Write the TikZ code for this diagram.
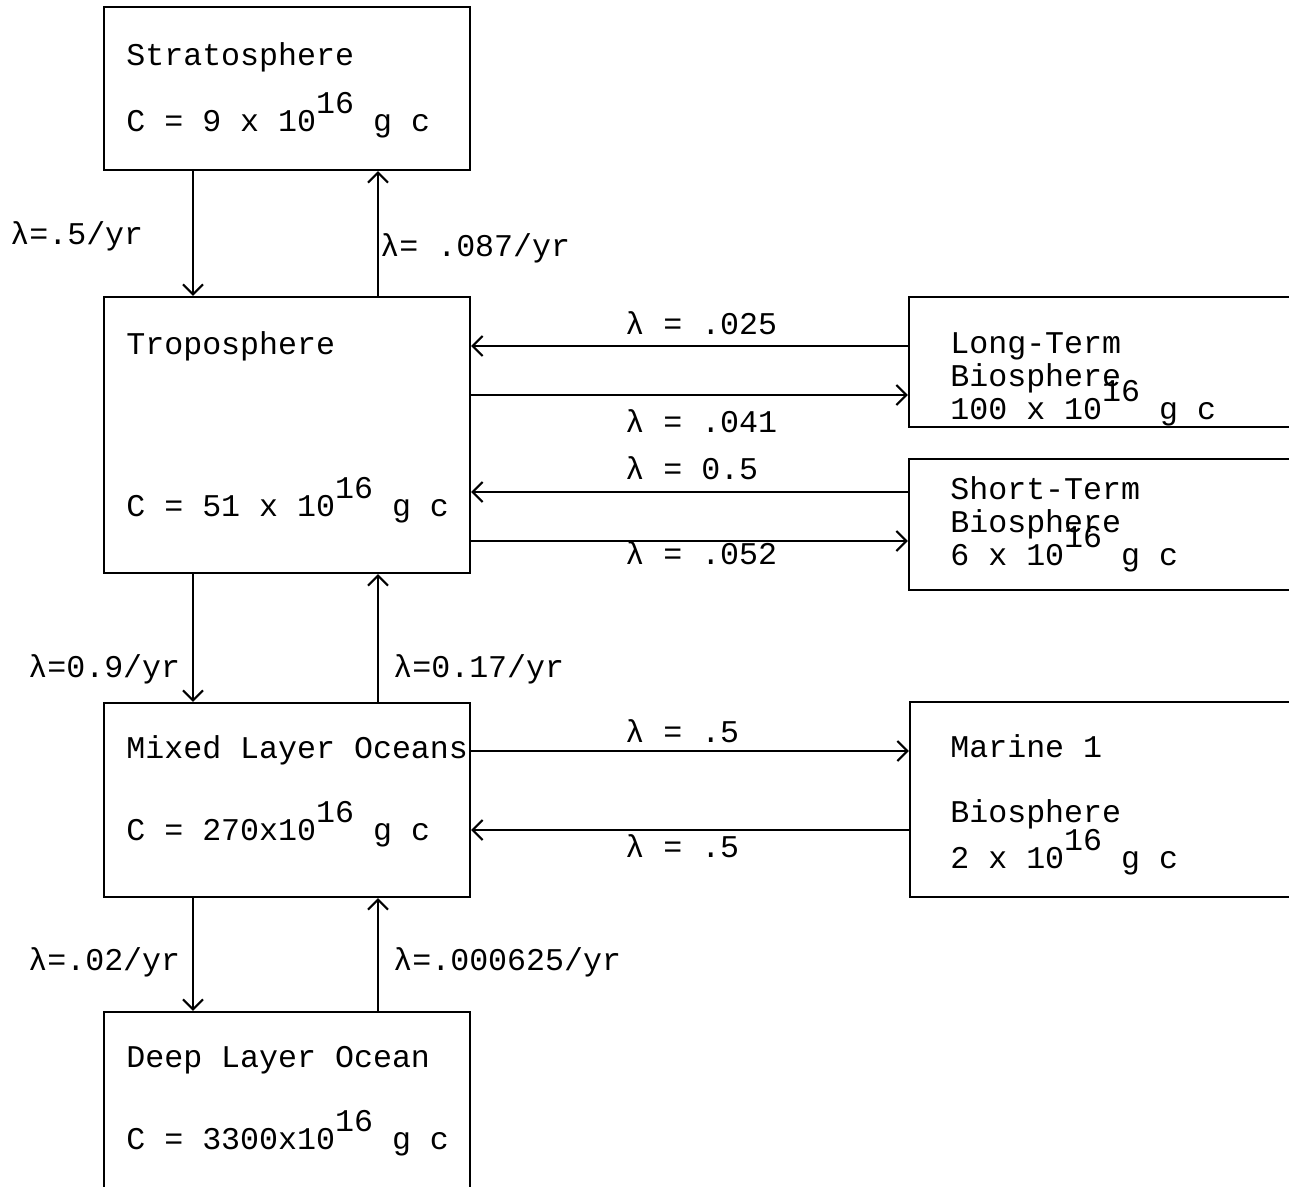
\documentclass[tikz,border=0pt]{standalone}
\usepackage{fontspec}
\setmainfont{Liberation Mono}
\usepackage{tikz}
\usetikzlibrary{arrows.meta,positioning,fit,calc}
\newcommand{\hiexp}[1]{\raisebox{0.55em}{#1}}

\begin{document}
\begin{tikzpicture}[x=0.02cm, y=-0.02cm,
  box/.style={draw, line width=1.3pt, inner sep=0pt},
  txt/.style={anchor=base west, inner sep=0pt, font=\fontsize{18pt}{22pt}\selectfont},
  ar/.style={-{Straight Barb[length=2mm,width=4mm]}, line width=1.2pt}]
\useasboundingbox (0,0) rectangle (1289,1187);
% compartments
\node[box, fit={(104,7) (470,170)}]     (strat) {};
\node[box, fit={(104,297) (470,573)}]   (trop)  {};
\node[box, fit={(909,297) (1320,427)}]  (lt)    {};
\node[box, fit={(909,459) (1320,590)}]  (st)    {};
\node[box, fit={(104,703) (470,897)}]   (mix)   {};
\node[box, fit={(910,702) (1320,897)}]  (mar)   {};
\node[box, fit={(104,1012) (470,1230)}] (deep)  {};
% box texts
\node[txt] (strat-n) at (126,65)   {Stratosphere};
\node[txt] (strat-c) at (126,131)  {C = 9 x 10\hiexp{16} g c};
\node[txt] (trop-n)  at (126,354)  {Troposphere};
\node[txt] (trop-c)  at (126,516)  {C = 51 x 10\hiexp{16} g c};
\node[txt] (lt-n1)   at (950,353)  {Long-Term};
\node[txt] (lt-n2)   at (950,386)  {Biosphere};
\node[txt] (lt-c)    at (950,419)  {100 x 10\hiexp{16} g c};
\node[txt] (st-n1)   at (950,499)  {Short-Term};
\node[txt] (st-n2)   at (950,532)  {Biosphere};
\node[txt] (st-c)    at (950,565)  {6 x 10\hiexp{16} g c};
\node[txt] (mix-n)   at (126,758)  {Mixed Layer Oceans};
\node[txt] (mix-c)   at (126,840)  {C = 270x10\hiexp{16} g c};
\node[txt] (mar-n1)  at (950,757)  {Marine 1};
\node[txt] (mar-n2)  at (950,822)  {Biosphere};
\node[txt] (mar-c)   at (950,868)  {2 x 10\hiexp{16} g c};
\node[txt] (deep-n)  at (126,1067) {Deep Layer Ocean};
\node[txt] (deep-c)  at (126,1149) {C = 3300x10\hiexp{16} g c};
% guide coordinates for the connectors
\coordinate (xdn) at (193,0);
\coordinate (xup) at (378,0);
\coordinate (y1) at (0,346);
\coordinate (y2) at (0,395);
\coordinate (y3) at (0,492);
\coordinate (y4) at (0,541);
\coordinate (y5) at (0,751);
\coordinate (y6) at (0,830);
% vertical exchanges
\draw[ar] (strat.south -| xdn) -- (trop.north -| xdn);
\draw[ar] (trop.north -| xup)  -- (strat.south -| xup);
\draw[ar] (trop.south -| xdn)  -- (mix.north -| xdn);
\draw[ar] (mix.north -| xup)   -- (trop.south -| xup);
\draw[ar] (mix.south -| xdn)   -- (deep.north -| xdn);
\draw[ar] (deep.north -| xup)  -- (mix.south -| xup);
% horizontal exchanges
\draw[ar] (lt.west |- y1)   -- (trop.east |- y1);
\draw[ar] (trop.east |- y2) -- (lt.west |- y2);
\draw[ar] (st.west |- y3)   -- (trop.east |- y3);
\draw[ar] (trop.east |- y4) -- (st.west |- y4);
\draw[ar] (mix.east |- y5)  -- (mar.west |- y5);
\draw[ar] (mar.west |- y6)  -- (mix.east |- y6);
% rate labels
\node[txt] (l1)  at (10,244)  {λ=.5/yr};
\node[txt] (l2)  at (380,256) {λ= .087/yr};
\node[txt] (l3)  at (625,334) {λ = .025};
\node[txt] (l4)  at (625,432) {λ = .041};
\node[txt] (l5)  at (625,479) {λ = 0.5};
\node[txt] (l6)  at (625,564) {λ = .052};
\node[txt] (l7)  at (28,677)  {λ=0.9/yr};
\node[txt] (l8)  at (393,677) {λ=0.17/yr};
\node[txt] (l9)  at (625,742) {λ = .5};
\node[txt] (l10) at (625,857) {λ = .5};
\node[txt] (l11) at (28,970)  {λ=.02/yr};
\node[txt] (l12) at (393,970) {λ=.000625/yr};
\end{tikzpicture}
\end{document}
